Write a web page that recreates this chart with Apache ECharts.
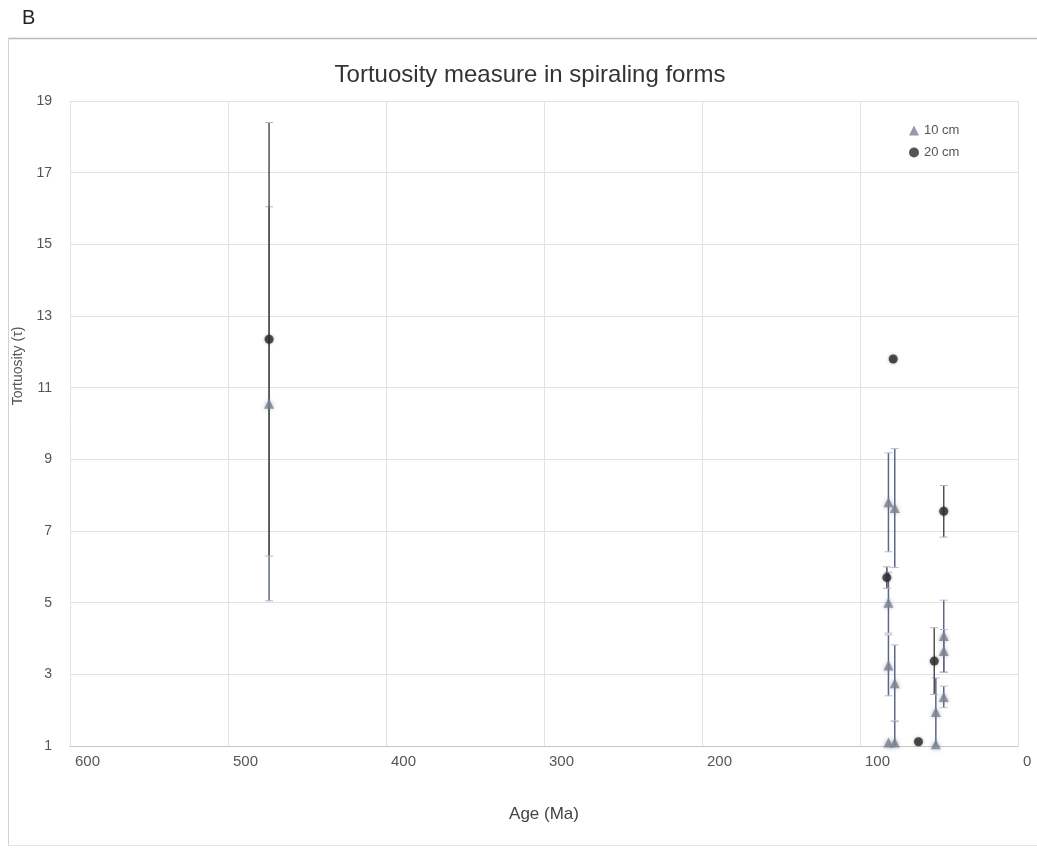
<!DOCTYPE html>
<html>
<head>
<meta charset="utf-8">
<title>Tortuosity measure in spiraling forms</title>
<script src="https://cdn.jsdelivr.net/npm/echarts@6/dist/echarts.min.js"></script>
<style>
  html, body { margin: 0; padding: 0; background: #ffffff; }
  #chart { width: 1037px; height: 851px; }
</style>
</head>
<body>
<div id="chart"></div>
<script>
// Age (Ma), tortuosity and error (±) for the 10 cm measurements
const ages10 = [474, 82, 78, 82, 82, 78, 82, 78, 52, 52, 47, 47, 47];
const tort10 = [10.55, 7.8, 7.64, 5.0, 3.25, 2.75, 1.1, 1.1, 1.95, 1.05, 4.07, 3.65, 2.37];
const err10  = [5.5, 1.38, 1.66, 0.85, 0.85, 1.07, 0, 0.6, 0.95, 0, 1.0, 0.6, 0.3];

// Age (Ma), tortuosity and error (±) for the 20 cm measurements
const ages20 = [474, 79, 83, 63, 53, 47];
const tort20 = [12.35, 11.8, 5.7, 1.12, 3.37, 7.55];
const err20  = [6.05, 0, 0.3, 0, 0.93, 0.72];

// Axis ticks
const ageTicks = [0, 100, 200, 300, 400, 500, 600];
const tortTicks = [1, 3, 5, 7, 9, 11, 13, 15, 17, 19];

const FONT = '"Liberation Sans", Arial, sans-serif';

function points(ages, vals) {
  return ages.map((a, i) => [a, vals[i]]);
}
function bars(ages, vals, errs) {
  const out = [];
  ages.forEach((a, i) => {
    if (errs[i] > 0) out.push([a, vals[i] - errs[i], vals[i] + errs[i]]);
  });
  return out;
}

// Vertical error bar with short caps
function errorBar(color, capColor) {
  return function (params, api) {
    const x = api.value(0);
    const top = api.coord([x, api.value(2)]);
    const bot = api.coord([x, api.value(1)]);
    const cap = 4;
    return {
      type: 'group',
      children: [
        { type: 'line', shape: { x1: top[0], y1: top[1], x2: bot[0], y2: bot[1] },
          style: { stroke: color, lineWidth: 1.5 } },
        { type: 'line', shape: { x1: top[0] - cap, y1: top[1], x2: top[0] + cap, y2: top[1] },
          style: { stroke: capColor, lineWidth: 1 } },
        { type: 'line', shape: { x1: bot[0] - cap, y1: bot[1], x2: bot[0] + cap, y2: bot[1] },
          style: { stroke: capColor, lineWidth: 1 } }
      ]
    };
  };
}

const chart = echarts.init(document.getElementById('chart'), null, { renderer: 'canvas' });

chart.setOption({
  animation: false,
  backgroundColor: '#ffffff',
  textStyle: { fontFamily: FONT },
  title: {
    text: 'Tortuosity measure in spiraling forms',
    left: 525, top: 58, textAlign: 'center',
    textStyle: { fontFamily: FONT, fontSize: 24, fontWeight: 'normal', color: '#333333' }
  },
  legend: {
    data: ['10 cm', '20 cm'],
    orient: 'vertical',
    left: 904, top: 119,
    itemWidth: 10, itemHeight: 10, itemGap: 9,
    textStyle: { fontFamily: FONT, fontSize: 13, color: '#555555' }
  },
  grid: { left: 70, right: 19, top: 101, bottom: 105 },
  xAxis: {
    type: 'value',
    inverse: true,
    min: ageTicks[0], max: ageTicks[ageTicks.length - 1], interval: 100,
    name: 'Age (Ma)',
    nameLocation: 'middle',
    nameGap: 60,
    nameTextStyle: { fontFamily: FONT, fontSize: 17, color: '#444444' },
    axisLine: { show: true, lineStyle: { color: '#c6c6c6', width: 1 } },
    axisTick: { show: false },
    axisLabel: {
      fontFamily: FONT, fontSize: 15, color: '#555555', margin: 8,
      align: 'left', padding: [0, 0, 0, 5]
    },
    splitLine: { show: true, lineStyle: { color: '#e2e2e2', width: 1 } }
  },
  yAxis: {
    type: 'value',
    min: tortTicks[0], max: tortTicks[tortTicks.length - 1], interval: 2,
    axisLine: { show: false },
    axisTick: { show: false },
    axisLabel: { fontFamily: FONT, fontSize: 14, color: '#555555', margin: 18 },
    splitLine: { show: true, lineStyle: { color: '#e2e2e2', width: 1 } }
  },
  graphic: [
    { type: 'text', left: 22, top: 8,
      style: { text: 'B', font: '20px ' + FONT, fill: '#222222' } },
    { type: 'line', shape: { x1: 8, y1: 38.5, x2: 1037, y2: 38.5 },
      style: { stroke: '#b9b9b9', lineWidth: 1.5 } },
    { type: 'line', shape: { x1: 8.5, y1: 38, x2: 8.5, y2: 846 },
      style: { stroke: '#d2d2d2', lineWidth: 1 } },
    { type: 'line', shape: { x1: 8, y1: 845.5, x2: 1037, y2: 845.5 },
      style: { stroke: '#e4e4e4', lineWidth: 1 } },
    { type: 'text', x: 18, y: 366, rotation: Math.PI / 2,
      style: { text: 'Tortuosity (τ)', font: '14px ' + FONT, fill: '#555555',
               textAlign: 'center', textVerticalAlign: 'middle' } }
  ],
  series: [
    {
      name: '10 cm bars', type: 'custom', clip: true, z: 2,
      renderItem: errorBar('#5e6789', '#b8bcc8'),
      data: bars(ages10, tort10, err10)
    },
    {
      name: '20 cm bars', type: 'custom', clip: true, z: 2,
      renderItem: errorBar('#505050', '#b5b5b5'),
      data: bars(ages20, tort20, err20)
    },
    {
      name: '10 cm', type: 'scatter', z: 4,
      symbol: 'triangle', symbolSize: 10,
      itemStyle: { color: '#7a8194', shadowBlur: 4, shadowColor: 'rgba(110,115,135,0.6)' },
      data: points(ages10, tort10)
    },
    {
      name: '20 cm', type: 'scatter', z: 5,
      symbol: 'circle', symbolSize: 9,
      itemStyle: { color: '#2b2b2b', shadowBlur: 3, shadowColor: 'rgba(40,40,40,0.5)' },
      data: points(ages20, tort20)
    }
  ]
});
</script>
</body>
</html>
